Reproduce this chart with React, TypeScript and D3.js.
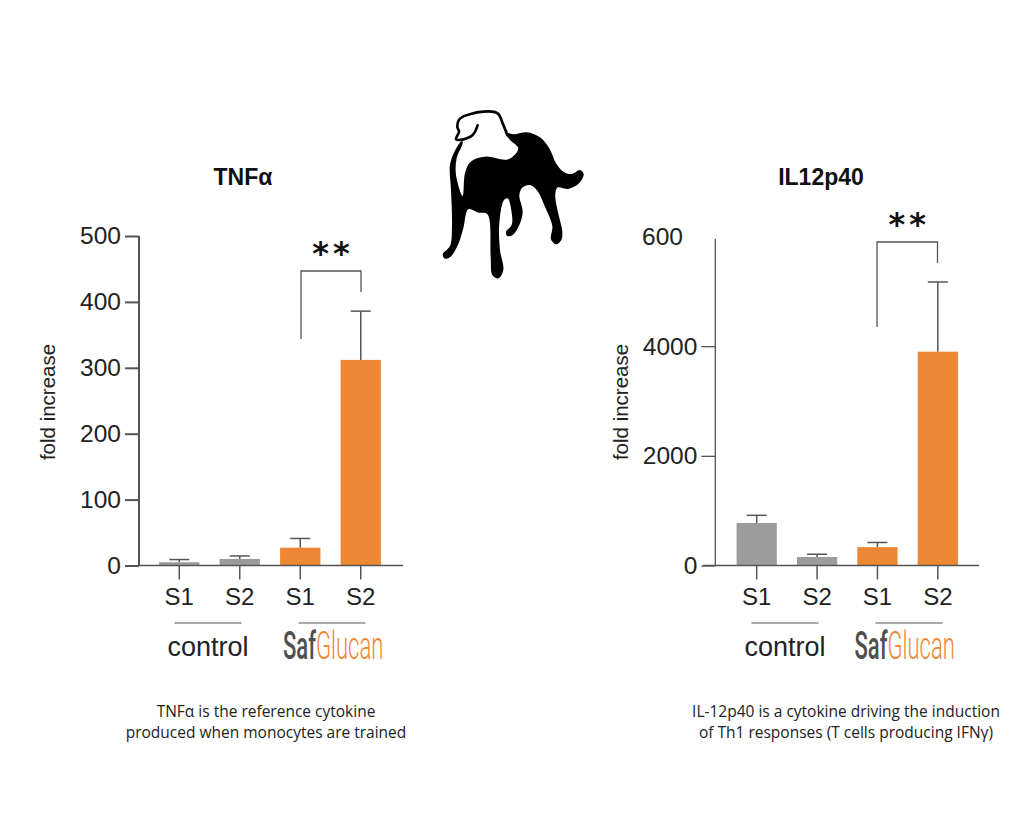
import { useEffect, useRef } from "react";
import * as d3 from "d3";

const barIds = ["c1", "c2", "s1", "s2"];
const barLabels = ["S1", "S2", "S1", "S2"];
const barColors = ["#9c9c9c", "#9c9c9c", "#ee8733", "#ee8733"];

const tnfValues = [5, 10, 27, 312];
const tnfErrors = [9, 14.5, 41, 386];
const tnfTicks = [0, 100, 200, 300, 400, 500];

const ilValues = [775, 155, 335, 3900];
const ilErrors = [915, 205, 420, 5170];
const ilTicks = [0, 2000, 4000];

const dogBody: [number, number][] = [
  [225, 97], [250, 103], [290, 97], [330, 112], [358, 145], [378, 190], [400, 215], [425, 222], [450, 210], [461, 222],
  [447, 250], [415, 267], [382, 263], [376, 290], [386, 345], [397, 395], [394, 420], [378, 433], [363, 418], [367, 378],
  [345, 320], [322, 272], [300, 255], [278, 262], [268, 285], [278, 335], [268, 375], [248, 405], [232, 408], [228, 396],
  [245, 375], [246, 345], [233, 295], [222, 300], [208, 370], [210, 450], [220, 510], [205, 535], [187, 525], [182, 470],
  [172, 342], [145, 338], [115, 328], [100, 385], [85, 432], [62, 470], [45, 476], [38, 463], [60, 438], [66, 380],
  [63, 270], [60, 195], [76, 150], [96, 122], [98, 130], [80, 175], [78, 225], [98, 288], [105, 220], [122, 185],
  [165, 170], [235, 178], [265, 145], [240, 120],
];
const dogHead: [number, number][] = [
  [232, 105], [218, 70], [203, 40], [160, 35], [90, 56], [82, 80], [87, 95], [78, 118], [100, 118], [128, 105], [143, 76],
];

function Chart(props: any) {
  const ref = useRef<SVGGElement>(null);
  const x = d3.scaleBand().domain(barIds).range(props.xRange).paddingInner(1 / 3).paddingOuter(1 / 6);
  const y = d3.scaleLinear().domain([0, props.yMax]).range([565.5, props.yTop]);

  useEffect(() => {
    const g = d3.select(ref.current);
    const yAxis = d3.axisLeft(y).tickValues(props.ticks).tickFormat(d3.format("d") as any).tickSize(14).tickPadding(4);
    const xAxis = d3.axisBottom(x).tickFormat((d: string) => barLabels[barIds.indexOf(d)]).tickSize(14).tickPadding(8);
    const gy = g.select<SVGGElement>(".y").call(yAxis as any);
    const gx = g.select<SVGGElement>(".x").call(xAxis as any);
    gx.select(".domain").remove();
    gy.select(".domain").remove();
    gy.selectAll("line").attr("stroke", "#555").attr("stroke-width", props.axisWidth);
    gx.selectAll("line").attr("stroke", "#555").attr("stroke-width", 1.5);
    gy.selectAll("text").attr("font-size", 24.5).attr("fill", "#222").attr("font-family", "Liberation Sans");
    gx.selectAll("text").attr("font-size", 24).attr("fill", "#222").attr("font-family", "Liberation Sans");
  });

  const axisX = props.axisX;
  return (
    <g ref={ref} fontFamily="Liberation Sans">
      <text x={props.titleX} y={185} textAnchor="middle" fontSize={23} fontWeight="bold" fill="#111">{props.title}</text>
      <text transform={`translate(${props.labelX},402) rotate(-90)`} textAnchor="middle" fontSize={20.5} fill="#222">fold increase</text>
      {barIds.map((id, i) => {
        const cx = x(id)! + x.bandwidth() / 2;
        return (
          <g key={id}>
            <line x1={cx} x2={cx} y1={y(props.values[i])} y2={y(props.errors[i])} stroke="#555" strokeWidth={1.5} />
            <line x1={cx - 10} x2={cx + 10} y1={y(props.errors[i])} y2={y(props.errors[i])} stroke="#555" strokeWidth={1.5} />
            <rect x={x(id)} y={y(props.values[i])} width={x.bandwidth()} height={y(0) - y(props.values[i])} fill={barColors[i]} />
          </g>
        );
      })}
      <g className="y" transform={`translate(${axisX},0)`} />
      <g className="x" transform="translate(0,565.5)" />
      <line x1={axisX} x2={axisX} y1={props.axisTop} y2={566} stroke="#555" strokeWidth={props.axisWidth} />
      <line x1={props.baseFrom} x2={props.baseTo} y1={565.5} y2={565.5} stroke="#555" strokeWidth={1.5} />
      {props.extraLabel && (
        <text x={props.extraLabel.x} y={244.5} fontSize={24.5} fill="#222">{props.extraLabel.text}</text>
      )}

      <path
        d={`M${props.bracket.x1},${props.bracket.y1}V${props.bracket.top}H${props.bracket.x2}V${props.bracket.y2}`}
        fill="none" stroke="#555" strokeWidth={1.3}
      />
      <text x={(props.bracket.x1 + props.bracket.x2) / 2 + 2} y={props.bracket.top - 7} textAnchor="middle" fontSize={32} fontWeight="bold" letterSpacing={4}
        fontFamily="DejaVu Sans" fill="#111">**</text>

      <line x1={props.groupX[0]} x2={props.groupX[0] + 67} y1={623} y2={623} stroke="#555" strokeWidth={1.2} />
      <line x1={props.groupX[1]} x2={props.groupX[1] + 67} y1={623} y2={623} stroke="#555" strokeWidth={1.2} />
      <text x={props.groupX[0] + 33.5} y={656} textAnchor="middle" fontSize={27} fill="#222">control</text>
      <text transform={`translate(${props.logoX},659) scale(0.565,1)`} fontSize={39} fontFamily="Roboto">
        <tspan fontWeight={500} fill="#4f4f4f">Saf</tspan>
        <tspan fontWeight={300} fill="#ee8733">Glucan</tspan>
      </text>

      {props.caption.map((t: string, i: number) => (
        <text key={t} x={props.captionX} y={717 + i * 21} textAnchor="middle" fontSize={15.5} fontFamily="Open Sans" fill="#222">{t}</text>
      ))}
    </g>
  );
}

export default function App() {
  const line = d3.line().curve(d3.curveCatmullRomClosed.alpha(0.5));
  const open = d3.line().curve(d3.curveCatmullRom.alpha(0.5));
  return (
    <svg width={1024} height={827} style={{ position: "absolute", left: 0, top: 0, background: "#fff" }}>
      <Chart
        title="TNFα" titleX={243} labelX={55}
        xRange={[149, 391]} yMax={500} yTop={236} ticks={tnfTicks}
        values={tnfValues} errors={tnfErrors}
        axisX={139} axisTop={236} axisWidth={2} baseFrom={139} baseTo={403}
        bracket={{ x1: 301, x2: 361, top: 271, y1: 339, y2: 292 }}
        groupX={[174.5, 298.5]} logoX={283}
        caption={["TNFα is the reference cytokine", "produced when monocytes are trained"]} captionX={266}
      />
      <Chart
        title="IL12p40" titleX={821} labelX={628}
        xRange={[726.5, 968]} yMax={6000} yTop={236.5} ticks={ilTicks}
        values={ilValues} errors={ilErrors}
        axisX={715.3} axisTop={239} axisWidth={1.3} baseFrom={703} baseTo={979}
        extraLabel={{ x: 642, text: "600" }}
        bracket={{ x1: 877, x2: 937.5, top: 242, y1: 327, y2: 263 }}
        groupX={[751.5, 875.5]} logoX={854.5}
        caption={["IL-12p40 is a cytokine driving the induction", "of Th1 responses (T cells producing IFNγ)"]} captionX={846}
      />
      <g transform="translate(430,100) scale(0.3333)">
        <path d={line(dogBody)!} fill="#000" />
        <path d={open(dogHead)!} fill="none" stroke="#000" strokeWidth={8} strokeLinecap="round" />
      </g>
    </svg>
  );
}
